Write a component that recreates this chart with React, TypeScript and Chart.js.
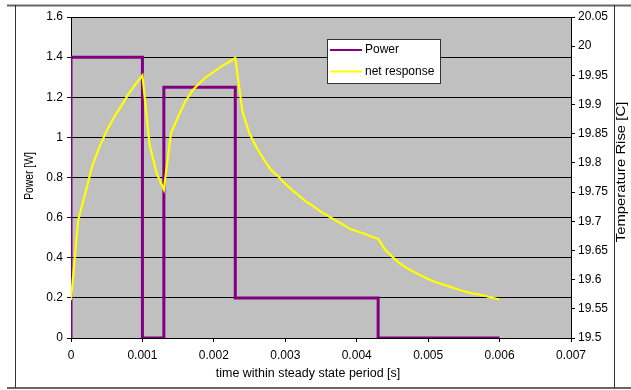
import React, { useEffect, useRef } from "react";
import { Chart, registerables } from "chart.js";

Chart.register(...registerables);

const xTickLabels = ["0", "0.001", "0.002", "0.003", "0.004", "0.005", "0.006", "0.007"];
const powerTickLabels = ["0", "0.2", "0.4", "0.6", "0.8", "1", "1.2", "1.4", "1.6"];
const tempTickLabels = ["19.5", "19.55", "19.6", "19.65", "19.7", "19.75", "19.8", "19.85", "19.9", "19.95", "20", "20.05"];

const powerTimes = [0, 0, 0.001, 0.001, 0.0013, 0.0013, 0.0023, 0.0023, 0.0043, 0.0043, 0.006];
const powerValues = [0, 1.4, 1.4, 0, 0, 1.25, 1.25, 0.2, 0.2, 0, 0];

const responseTimes = [
  0, 0.0001, 0.0002, 0.0003, 0.0004, 0.0005, 0.0006, 0.0007, 0.0008, 0.0009, 0.001,
  0.0011, 0.0012, 0.0013, 0.0014, 0.0015, 0.0016, 0.0017, 0.0018, 0.0019, 0.002,
  0.0021, 0.0022, 0.0023, 0.0024, 0.0025, 0.0026, 0.0027, 0.0028, 0.0029, 0.003,
  0.0031, 0.0032, 0.0033, 0.0034, 0.0035, 0.0036, 0.0037, 0.0038, 0.0039, 0.004,
  0.0041, 0.0042, 0.0043, 0.0044, 0.0045, 0.0046, 0.0047, 0.0048, 0.0049, 0.005,
  0.0051, 0.0052, 0.0053, 0.0054, 0.0055, 0.0056, 0.0057, 0.0058, 0.0059, 0.006,
];
const responseValues = [
  19.565, 19.702, 19.748, 19.796, 19.828, 19.855, 19.878, 19.897, 19.917, 19.934, 19.95,
  19.831, 19.782, 19.754, 19.851, 19.879, 19.905, 19.924, 19.937, 19.948, 19.956,
  19.965, 19.972, 19.98, 19.888, 19.85, 19.826, 19.806, 19.788, 19.777, 19.764,
  19.753, 19.743, 19.733, 19.725, 19.716, 19.709, 19.702, 19.695, 19.687, 19.683,
  19.679, 19.674, 19.67, 19.651, 19.639, 19.628, 19.62, 19.613, 19.607, 19.601,
  19.596, 19.592, 19.588, 19.584, 19.58, 19.577, 19.575, 19.572, 19.569, 19.566,
];

const FONT = "'Liberation Sans', Arial, sans-serif";
const PURPLE = "#800080";
const YELLOW = "#FFFF00";

const decorPlugin = {
  id: "decor",
  beforeDraw(chart: any) {
    const { ctx, chartArea } = chart;
    const { left, top, right, bottom } = chartArea;
    ctx.save();
    ctx.fillStyle = "#ffffff";
    ctx.fillRect(0, 0, chart.width, chart.height);
    ctx.fillStyle = "#C0C0C0";
    ctx.fillRect(left, top, right - left, bottom - top);
    ctx.strokeStyle = "#666666";
    ctx.lineWidth = 2;
    ctx.beginPath();
    ctx.moveTo(7, 5.5);
    ctx.lineTo(chart.width, 5.5);
    ctx.moveTo(7, 388);
    ctx.lineTo(chart.width, 388);
    ctx.stroke();
    ctx.strokeStyle = "#333333";
    ctx.lineWidth = 1;
    ctx.beginPath();
    ctx.moveTo(15.5, 5);
    ctx.lineTo(15.5, 388);
    ctx.moveTo(614.5, 5);
    ctx.lineTo(614.5, 388);
    ctx.stroke();
    ctx.restore();
  },
  afterDraw(chart: any) {
    const { ctx } = chart;
    ctx.save();
    ctx.fillStyle = "#000";
    ctx.font = `12px ${FONT}`;
    ctx.textAlign = "center";
    ctx.textBaseline = "middle";
    ctx.save();
    ctx.translate(308, 374);
    ctx.scale(1.04, 1);
    ctx.fillText("time within steady state period [s]", 0, 0);
    ctx.restore();
    ctx.save();
    ctx.translate(30, 176);
    ctx.rotate(-Math.PI / 2);
    ctx.scale(0.86, 1);
    ctx.fillText("Power [W]", 0, 0);
    ctx.restore();
    ctx.save();
    ctx.translate(622, 172);
    ctx.rotate(-Math.PI / 2);
    ctx.scale(1.24, 1);
    ctx.fillText("Temperature Rise [C]", 0, 0);
    ctx.restore();
    ctx.fillStyle = "#ffffff";
    ctx.fillRect(327.5, 39.5, 113, 44);
    ctx.strokeStyle = "#333333";
    ctx.lineWidth = 1;
    ctx.strokeRect(327.5, 39.5, 113, 44);
    const items = [
      { label: chart.data.datasets[0].label, color: PURPLE, y: 50 },
      { label: chart.data.datasets[1].label, color: YELLOW, y: 71.5 },
    ];
    ctx.textAlign = "left";
    for (const it of items) {
      ctx.strokeStyle = it.color;
      ctx.lineWidth = 2;
      ctx.beginPath();
      ctx.moveTo(330, it.y);
      ctx.lineTo(362, it.y);
      ctx.stroke();
      ctx.fillStyle = "#000";
      ctx.fillText(it.label, 365, it.y);
    }
    ctx.restore();
  },
};

export default function App() {
  const ref = useRef<HTMLCanvasElement | null>(null);
  useEffect(() => {
    if (!ref.current) return;
    const chart = new Chart(ref.current, {
      type: "scatter",
      data: {
        datasets: [
          {
            label: "Power",
            data: powerTimes.map((t, i) => ({ x: t, y: powerValues[i] })),
            showLine: true,
            borderColor: PURPLE,
            backgroundColor: PURPLE,
            borderWidth: 3,
            pointRadius: 0,
            yAxisID: "y",
            order: 1,
          },
          {
            label: "net response",
            data: responseTimes.map((t, i) => ({ x: t, y: responseValues[i] })),
            showLine: true,
            borderColor: YELLOW,
            backgroundColor: YELLOW,
            borderWidth: 2.2,
            pointRadius: 0,
            yAxisID: "y1",
            order: 0,
          },
        ],
      },
      options: {
        responsive: false,
        animation: false,
        layout: { padding: { top: 17, left: 0, right: 0, bottom: 0 } },
        plugins: { legend: { display: false }, tooltip: { enabled: false } },
        scales: {
          x: {
            type: "linear",
            min: 0,
            max: 0.007,
            ticks: {
              stepSize: 0.001,
              padding: 6,
              color: "#000",
              font: { family: FONT, size: 12 },
              callback: (_v: any, i: number) => xTickLabels[i],
            },
            grid: { drawOnChartArea: false, drawTicks: true, tickLength: 4, color: "#000" },
            border: { color: "#000" },
            afterFit: (s: any) => {
              s.height = 52;
            },
          },
          y: {
            type: "linear",
            position: "left",
            min: 0,
            max: 1.6,
            ticks: {
              stepSize: 0.2,
              padding: 4,
              color: "#000",
              font: { family: FONT, size: 12 },
              callback: (_v: any, i: number) => powerTickLabels[i],
            },
            grid: { color: "#000", tickLength: 4 },
            border: { color: "#000" },
            afterFit: (s: any) => {
              s.width = 71;
            },
          },
          y1: {
            type: "linear",
            position: "right",
            min: 19.5,
            max: 20.05,
            ticks: {
              stepSize: 0.05,
              padding: 3,
              color: "#000",
              font: { family: FONT, size: 12 },
              callback: (_v: any, i: number) => tempTickLabels[i],
            },
            grid: { drawOnChartArea: false, tickLength: 4, color: "#000" },
            border: { color: "#000" },
            afterFit: (s: any) => {
              s.width = 60;
            },
          },
        },
      },
      plugins: [decorPlugin],
    } as any);
    return () => chart.destroy();
  }, []);
  return (
    <div style={{ position: "absolute", left: 0, top: 0, width: 631, height: 390 }}>
      <canvas ref={ref} width={631} height={390} style={{ width: 631, height: 390, display: "block" }} />
    </div>
  );
}
